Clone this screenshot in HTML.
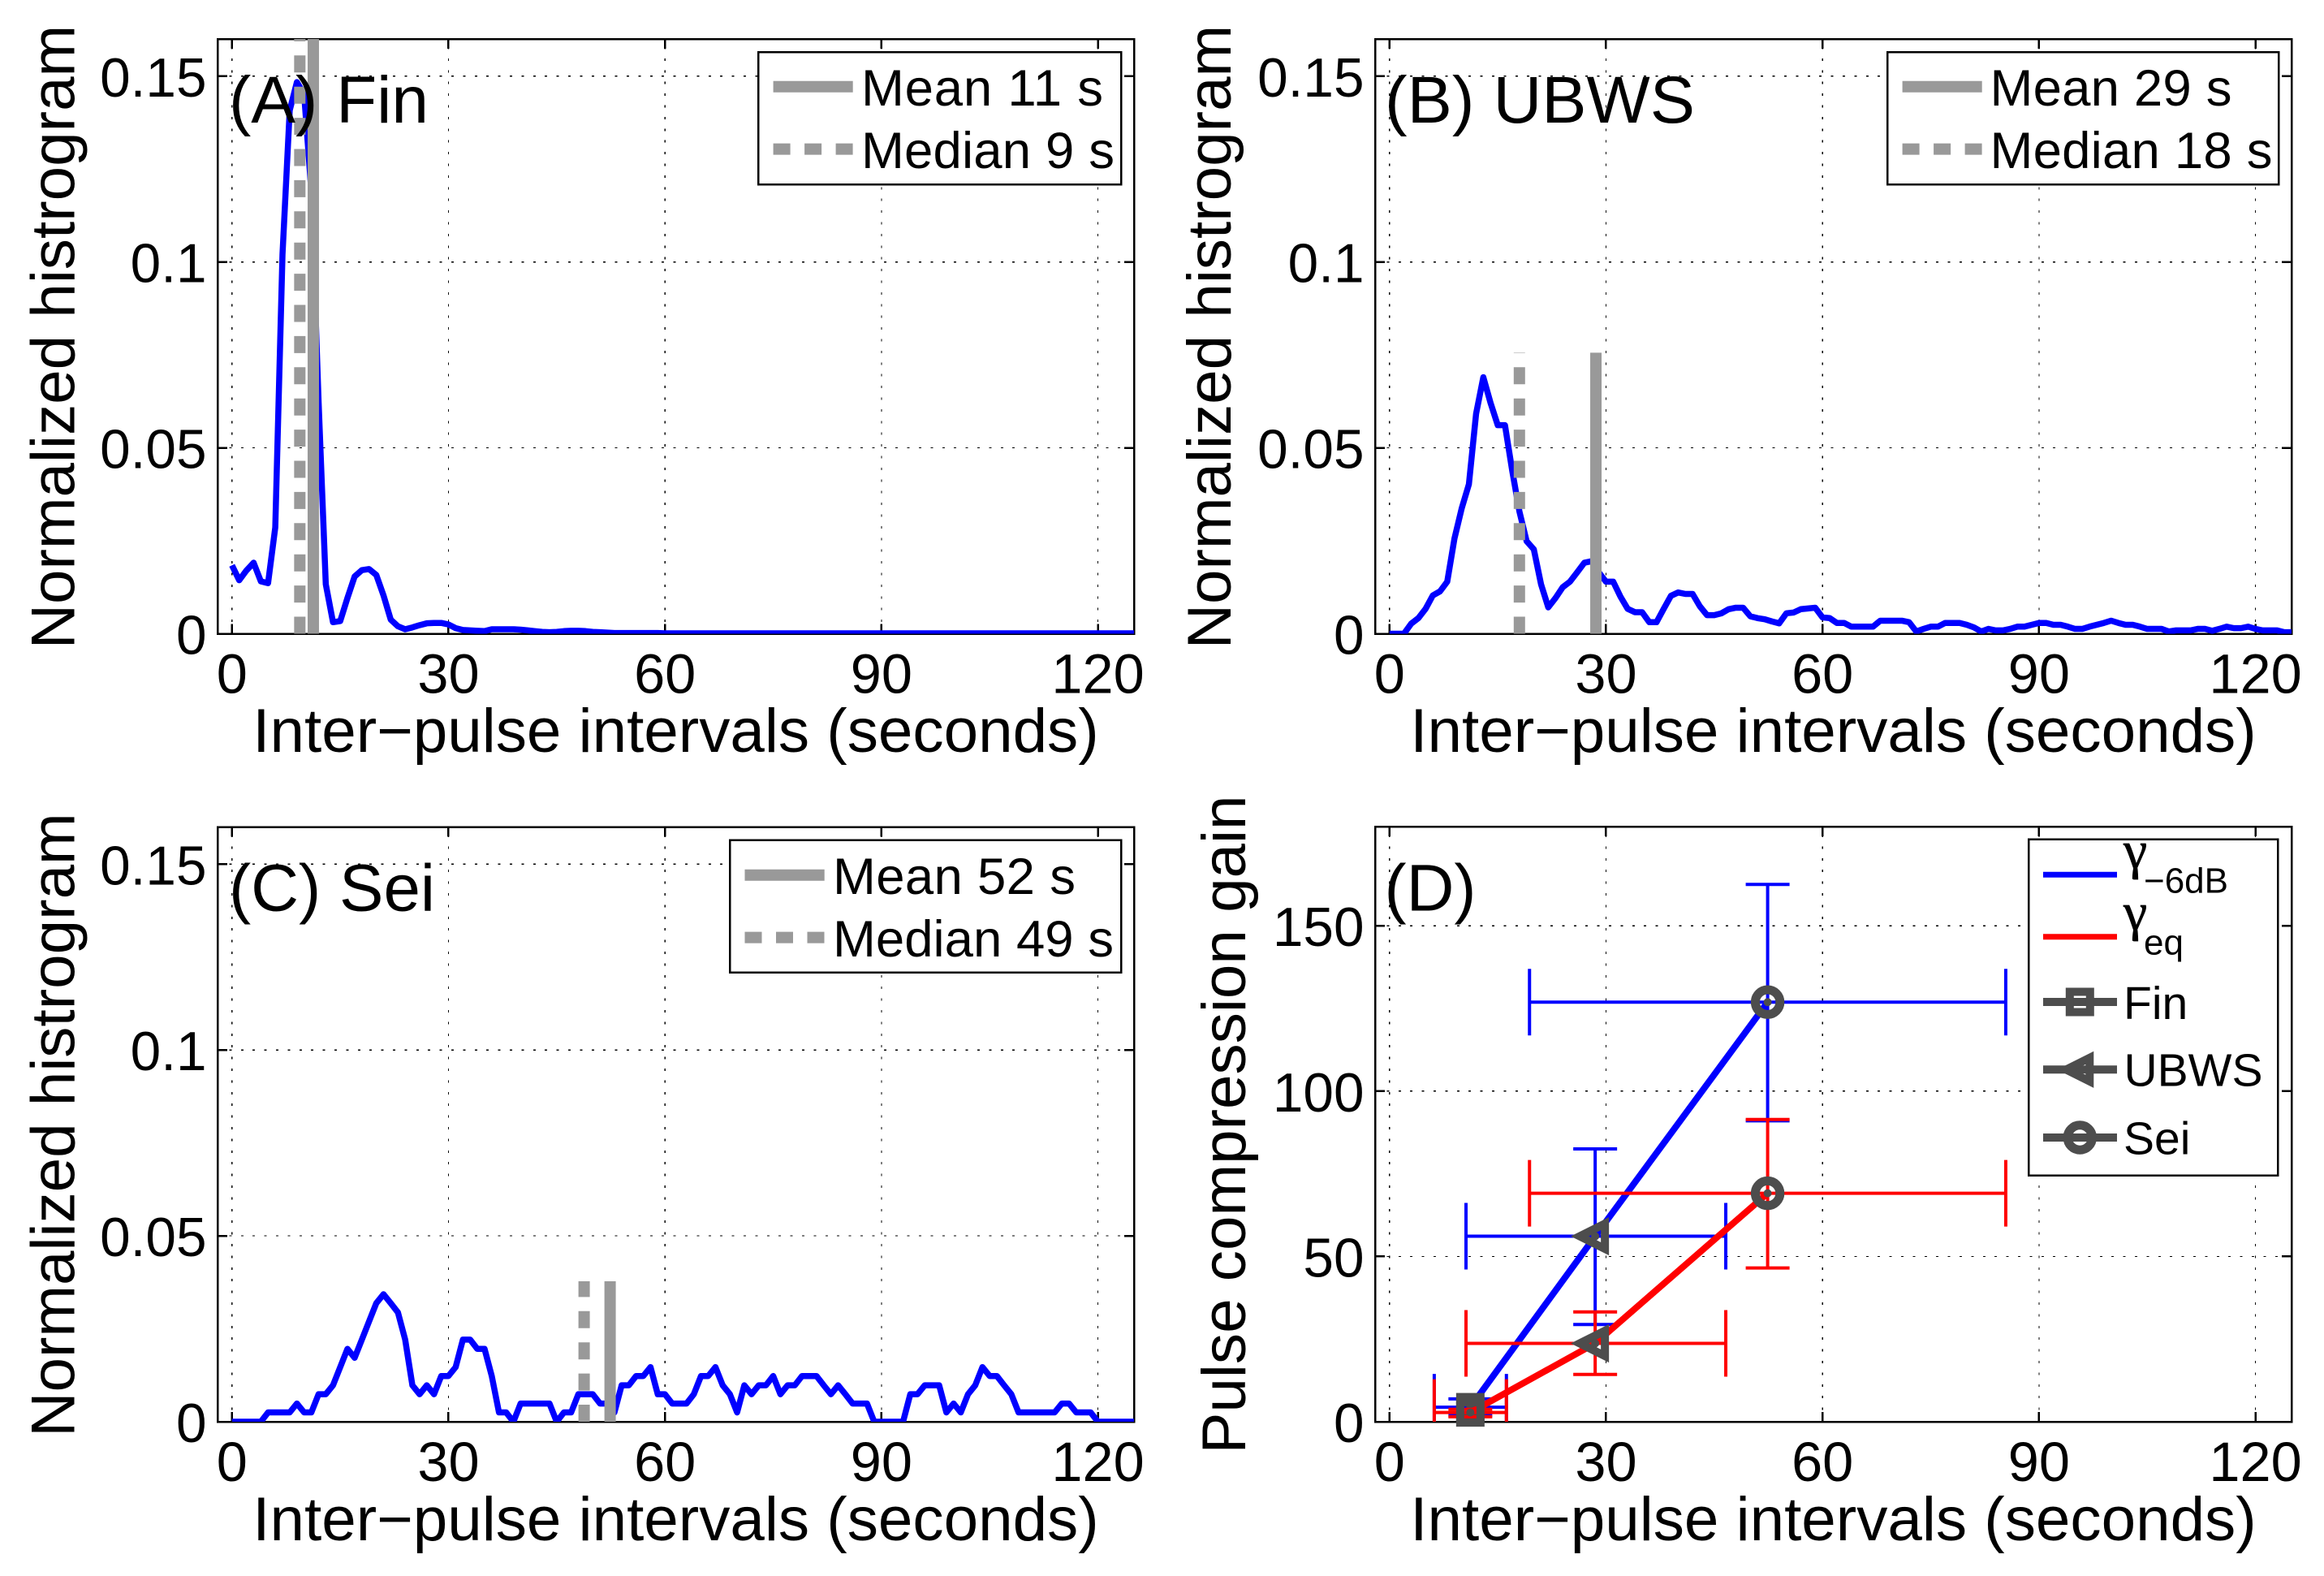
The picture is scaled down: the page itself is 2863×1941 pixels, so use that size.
<!DOCTYPE html>
<html lang="en">
<head>
<meta charset="utf-8">
<title>Inter-pulse interval histograms and pulse compression gain</title>
<style>
html,body{margin:0;padding:0;background:#fff;}
svg{display:block;}
text{font-family:"Liberation Sans",sans-serif;fill:#000;}
.lab{font-size:76.4px;text-anchor:middle;}
.tag{font-size:82px;}
.leg{font-size:63.5px;}
.leg2{font-size:57px;}
.sub{font-size:44px;}
.gam{font-family:"Liberation Serif",serif;font-size:66px;stroke:#000;stroke-width:0.7;}
.box{fill:#fff;stroke:#000;stroke-width:2.5;shape-rendering:crispEdges;}
</style>
</head>
<body>
<svg id="figure" xmlns="http://www.w3.org/2000/svg" width="2863" height="1941" viewBox="0 0 2863 1941">
<rect x="0" y="0" width="2863" height="1941" fill="#fff"/>

<g>
  <g id="plot-a"></g>
  <text class="lab" x="832.5" y="926">Inter−pulse intervals (seconds)</text>
  <text class="lab" transform="translate(91.5,415) rotate(-90)">Normalized histrogram</text>
  <text class="tag" x="282" y="151" textLength="246" lengthAdjust="spacingAndGlyphs">(A) Fin</text>
  <g>
    <rect class="box" x="934" y="64" width="447" height="163"/>
    <line x1="952.6" x2="1050.7" y1="106.7" y2="106.7" stroke="#999" stroke-width="14"/>
    <text class="leg" x="1061" y="130" textLength="298" lengthAdjust="spacing">Mean 11 s</text>
    <line x1="952.6" x2="1050.7" y1="183.6" y2="183.6" stroke="#999" stroke-width="14" stroke-dasharray="21 17.5"/>
    <text class="leg" x="1061" y="207" textLength="312" lengthAdjust="spacing">Median 9 s</text>
  </g>
</g>

<g>
  <g id="plot-b"></g>
  <text class="lab" x="2258.5" y="926">Inter−pulse intervals (seconds)</text>
  <text class="lab" transform="translate(1515.8,415) rotate(-90)">Normalized histrogram</text>
  <text class="tag" x="1706" y="151" textLength="382" lengthAdjust="spacingAndGlyphs">(B) UBWS</text>
  <g>
    <rect class="box" x="2325" y="64" width="482" height="163"/>
    <line x1="2343.6" x2="2441.7" y1="106.7" y2="106.7" stroke="#999" stroke-width="14"/>
    <text class="leg" x="2451.5" y="130" textLength="298" lengthAdjust="spacing">Mean 29 s</text>
    <line x1="2343.6" x2="2441.7" y1="183.6" y2="183.6" stroke="#999" stroke-width="14" stroke-dasharray="21 17.5"/>
    <text class="leg" x="2451.5" y="207" textLength="348" lengthAdjust="spacing">Median 18 s</text>
  </g>
</g>

<g>
  <g id="plot-c"></g>
  <text class="lab" x="832.5" y="1897">Inter−pulse intervals (seconds)</text>
  <text class="lab" transform="translate(91.5,1385.5) rotate(-90)">Normalized histrogram</text>
  <text class="tag" x="282" y="1121.5" textLength="254" lengthAdjust="spacingAndGlyphs">(C) Sei</text>
  <g>
    <rect class="box" x="899" y="1034.6" width="482" height="163"/>
    <line x1="917.5" x2="1015.7" y1="1077.7" y2="1077.7" stroke="#999" stroke-width="14"/>
    <text class="leg" x="1026" y="1101" textLength="299" lengthAdjust="spacing">Mean 52 s</text>
    <line x1="917.5" x2="1015.7" y1="1154.6" y2="1154.6" stroke="#999" stroke-width="14" stroke-dasharray="21 17.5"/>
    <text class="leg" x="1026" y="1178" textLength="346" lengthAdjust="spacing">Median 49 s</text>
  </g>
</g>

<g>
  <g id="plot-d"></g>
  <text class="lab" x="2258.5" y="1897">Inter−pulse intervals (seconds)</text>
  <text class="lab" transform="translate(1534,1385) rotate(-90)">Pulse compression gain</text>
  <text class="tag" x="1705.5" y="1121.5" textLength="113" lengthAdjust="spacingAndGlyphs">(D)</text>
  <g>
    <rect class="box" x="2499" y="1033.7" width="307" height="414"/>
    <line x1="2517" x2="2608" y1="1077.3" y2="1077.3" stroke="#00f" stroke-width="7"/>
    <text class="gam" x="2616" y="1069">γ</text>
    <text class="sub" x="2641" y="1099.3">−6dB</text>
    <line x1="2517" x2="2608" y1="1153.7" y2="1153.7" stroke="#f00" stroke-width="7"/>
    <text class="gam" x="2616" y="1145">γ</text>
    <text class="sub" x="2641" y="1175.3">eq</text>
    <line x1="2517" x2="2608" y1="1234" y2="1234" stroke="#4d4d4d" stroke-width="10"/>
    <rect x="2549.8" y="1221.5" width="25" height="25" fill="none" stroke="#4d4d4d" stroke-width="10"/>
    <text class="leg2" x="2616" y="1255">Fin</text>
    <line x1="2517" x2="2608" y1="1317.3" y2="1317.3" stroke="#4d4d4d" stroke-width="10"/>
    <path d="M2545.3 1317.3L2574.3 1302.8L2574.3 1331.8Z" fill="none" stroke="#4d4d4d" stroke-width="10"/>
    <text class="leg2" x="2616.5" y="1337.3">UBWS</text>
    <line x1="2517" x2="2608" y1="1401" y2="1401" stroke="#4d4d4d" stroke-width="10"/>
    <circle cx="2562.3" cy="1401" r="15.2" fill="none" stroke="#4d4d4d" stroke-width="11"/>
    <text class="leg2" x="2616" y="1421.7">Sei</text>
  </g>
</g>
</svg>

<script>
// ---------- Shared axis values ----------
const xTickValues = [0, 30, 60, 90, 120];
const histYTickValues = [0, 0.05, 0.1, 0.15];
const histYTickLabels = ['0', '0.05', '0.1', '0.15'];
const gainYTickValues = [0, 50, 100, 150];
const gainYTickLabels = ['0', '50', '100', '150'];

// ---------- Histogram series: one value per second, 0 to 125 s ----------
const finHistogram = [
.0184,.0144,.017,.0191,.0141,.0136,.0286,.102,.1408,.1484,.1451,.119,.0625,.0133,.0031,.0034,.0096,.0154,.0171,.0174,
.0158,.0103,.0038,.002,.0012,.0017,.0023,.0028,.0029,.0029,.0025,.0015,.001,.0009,.0008,.0007,.0012,.0012,.0012,.0012,
.0011,.0009,.0007,.0005,.0004,.0005,.0007,.0008,.0008,.0007,.0005,.0004,.0003,.0002,.0002,.0002,.0002,.0002,.0002,.0002,
.0001,.0001,.0001,.0001,.0001,.0001,.0001,.0001,.0001,.0001,.0001,.0001,.0001,.0001,.0001,.0001,.0001,.0001,.0001,.0001,
.0001,.0001,.0001,.0001,.0001,.0001,.0001,.0001,.0001,.0001,.0001,.0001,.0001,.0001,.0001,.0001,.0001,.0001,.0001,.0001,
.0001,.0001,.0001,.0001,.0001,.0001,.0001,.0001,.0001,.0001,.0001,.0001,.0001,.0001,.0001,.0001,.0001,.0001,.0001,.0001,
.0001,.0001,.0001,.0001,.0001,.0001];
const ubwsHistogram = [
0,0,0,.0027,.0042,.0067,.0103,.0114,.014,.0256,.0337,.0402,.0592,.069,.0621,.0561,.0561,.0439,.0329,.0249,
.0227,.0133,.0071,.0096,.0125,.014,.0165,.0191,.0195,.0165,.014,.014,.01,.0067,.0058,.0058,.0031,.0031,.0067,.0102,
.0111,.0107,.0107,.0074,.005,.005,.0055,.0066,.007,.007,.0047,.0042,.0039,.0033,.0028,.0055,.0057,.0066,.0068,.007,
.0044,.0042,.0029,.0029,.0019,.0019,.0019,.0019,.0035,.0035,.0035,.0035,.0031,.0006,.0013,.0019,.0019,.0029,.0029,.0029,
.0024,.0017,.0006,.0013,.0009,.0009,.0013,.0019,.0019,.0024,.0029,.0029,.0024,.0024,.0019,.0013,.0013,.0019,.0024,.0029,
.0035,.0029,.0024,.0024,.0019,.0013,.0013,.0013,.0006,.0009,.0009,.0009,.0013,.0013,.0008,.0013,.0019,.0015,.0015,.0019,
.0013,.0009,.0009,.0009,.0004,.0004];
const seiHistogram = [
0,0,0,0,0,.0025,.0025,.0025,.0025,.0049,.0025,.0025,.0074,.0074,.0098,.0147,.0196,.0172,.0221,.027,
.0319,.0343,.0319,.0294,.0221,.0098,.0074,.0098,.0074,.0123,.0123,.0147,.0221,.0221,.0196,.0196,.0123,.0025,.0025,0,
.0049,.0049,.0049,.0049,.0049,0,.0025,.0025,.0074,.0074,.0074,.0049,.0049,.0025,.0098,.0098,.0123,.0123,.0147,.0074,
.0074,.0049,.0049,.0049,.0074,.0123,.0123,.0147,.0098,.0074,.0025,.0098,.0074,.0098,.0098,.0123,.0074,.0098,.0098,.0123,
.0123,.0123,.0098,.0074,.0098,.0074,.0049,.0049,.0049,0,0,0,0,0,.0074,.0074,.0098,.0098,.0098,.0025,
.0049,.0025,.0074,.0098,.0147,.0123,.0123,.0098,.0074,.0025,.0025,.0025,.0025,.0025,.0025,.0049,.0049,.0025,.0025,.0025,
0,0,0,0,0,0];

// ---------- Mean and median marker values (seconds) and heights ----------
const finMean = 11.27, finMedian = 9.4, finMarkerHeight = 0.17;
const ubwsMean = 28.6, ubwsMedian = 18, ubwsMarkerHeight = 0.0756;
const seiMean = 52.4, seiMedian = 48.8, seiMarkerHeight = 0.0378;

// ---------- Panel D: one entry per species ----------
const gainSpecies = ['fin', 'ubws', 'sei'];
const intervalMean = [11.2, 28.5, 52.4];
const intervalLow = [6.2, 10.6, 19.4];
const intervalHigh = [16.2, 46.6, 85.4];
const gamma6dBMean = [4.4, 56.1, 126.9];
const gamma6dBLow = [2, 29.4, 91];
const gamma6dBHigh = [6.9, 82.5, 162.5];
const gammaEqMean = [2.8, 23.7, 69.1];
const gammaEqLow = [1.5, 14.3, 46.5];
const gammaEqHigh = [3.75, 33.2, 91.4];

// ---------- Drawing ----------
const NS = 'http://www.w3.org/2000/svg';
function add(parent, tag, attrs) {
  const node = document.createElementNS(NS, tag);
  for (const k in attrs) node.setAttribute(k, attrs[k]);
  parent.appendChild(node);
  return node;
}

function makeAxes(id, left, top, bottom, yMax, yTicks, yLabels) {
  const width = 1129, xMin = -2, xMax = 125;
  const right = left + width;
  const xs = v => left + (v - xMin) / (xMax - xMin) * width;
  const ys = v => bottom - v / yMax * (bottom - top);
  const root = document.getElementById('plot-' + id);
  const crisp = 'crispEdges';

  const clip = add(root, 'clipPath', {id: 'clip-' + id});
  add(clip, 'rect', {x: left, y: top, width: width, height: bottom - top});

  xTickValues.forEach(v => {
    const g = add(root, 'line', {x1: xs(v), x2: xs(v), y1: bottom, y2: top, stroke: '#000', 'stroke-width': 1.2, 'stroke-dasharray': '3 11.4', 'shape-rendering': crisp});
    
    
    const t1 = add(root, 'line', {x1: xs(v), x2: xs(v), y1: bottom, y2: bottom - 12, stroke: '#000', 'stroke-width': 2.5, 'shape-rendering': crisp});
    
    
    const t2 = add(root, 'line', {x1: xs(v), x2: xs(v), y1: top, y2: top + 12, stroke: '#000', 'stroke-width': 2.5, 'shape-rendering': crisp});
    
    
    const lab = add(root, 'text', {x: xs(v), y: bottom + 73, 'text-anchor': 'middle', 'font-size': 68.5});
    lab.textContent = String(v);
    
    
  });

  yTicks.forEach((v, i) => {
    if (v > 0) {
      const g = add(root, 'line', {x1: left, x2: right, y1: ys(v), y2: ys(v), stroke: '#000', 'stroke-width': 1.2, 'stroke-dasharray': '3 11.4', 'shape-rendering': crisp});
      
      
      const t1 = add(root, 'line', {x1: left, x2: left + 12, y1: ys(v), y2: ys(v), stroke: '#000', 'stroke-width': 2.5, 'shape-rendering': crisp});
      
      
      const t2 = add(root, 'line', {x1: right, x2: right - 12, y1: ys(v), y2: ys(v), stroke: '#000', 'stroke-width': 2.5, 'shape-rendering': crisp});
      
      
    }
    const lab = add(root, 'text', {x: left - 13.5, y: ys(v) + 25, 'text-anchor': 'end', 'font-size': 67.5});
    lab.textContent = yLabels[i];
    
    
  });

  const frame = add(root, 'rect', {x: left, y: top, width: width, height: bottom - top, fill: 'none', stroke: '#000', 'stroke-width': 2.5, 'shape-rendering': crisp});
  
  

  return {root: root, xs: xs, ys: ys, clipUrl: 'url(#clip-' + id + ')'};
}

function drawHistogram(ax, values, mean, median, height) {
  const pts = values.map((v, i) => ax.xs(i) + ',' + ax.ys(v)).join(' ');
  const line = add(ax.root, 'polyline', {points: pts, fill: 'none', stroke: '#00f', 'stroke-width': 7.5, 'stroke-linejoin': 'round', 'clip-path': ax.clipUrl});
  
  
  const m = add(ax.root, 'line', {x1: ax.xs(mean), x2: ax.xs(mean), y1: ax.ys(0), y2: ax.ys(height), stroke: '#999', 'stroke-width': 14, 'clip-path': ax.clipUrl});
  
  
  const d = add(ax.root, 'line', {x1: ax.xs(median), x2: ax.xs(median), y1: ax.ys(0), y2: ax.ys(height), stroke: '#999', 'stroke-width': 14, 'stroke-dasharray': '21 17.4', 'clip-path': ax.clipUrl});
  
  
}

function drawMarker(ax, kind, cx, cy) {
  const dark = '#4d4d4d';
  let mk;
  if (kind === 'fin') {
    mk = add(ax.root, 'rect', {x: cx - 12.5, y: cy - 12.5, width: 25, height: 25, fill: 'none', stroke: dark, 'stroke-width': 10});
  } else if (kind === 'ubws') {
    mk = add(ax.root, 'path', {d: 'M' + (cx - 19) + ' ' + cy + 'L' + (cx + 12) + ' ' + (cy - 15.5) + 'L' + (cx + 12) + ' ' + (cy + 15.5) + 'Z', fill: 'none', stroke: dark, 'stroke-width': 10});
  } else {
    mk = add(ax.root, 'circle', {cx: cx, cy: cy, r: 15.2, fill: 'none', stroke: dark, 'stroke-width': 11});
  }
  
  
  const dot = add(ax.root, 'circle', {cx: cx, cy: cy, r: 5, fill: dark});
  
  
}

function drawGainSeries(ax, color, means, lows, highs) {
  const capX = 27, capY = 41;
  means.forEach((v, i) => {
    const px = ax.xs(intervalMean[i]), py = ax.ys(v);
    const segs = [
      [ax.xs(intervalLow[i]), py, ax.xs(intervalHigh[i]), py],
      [ax.xs(intervalLow[i]), py - capY, ax.xs(intervalLow[i]), py + capY],
      [ax.xs(intervalHigh[i]), py - capY, ax.xs(intervalHigh[i]), py + capY],
      [px, ax.ys(lows[i]), px, ax.ys(highs[i])],
      [px - capX, ax.ys(lows[i]), px + capX, ax.ys(lows[i])],
      [px - capX, ax.ys(highs[i]), px + capX, ax.ys(highs[i])]
    ];
    segs.forEach(s => {
      const e = add(ax.root, 'line', {x1: s[0], y1: s[1], x2: s[2], y2: s[3], stroke: color, 'stroke-width': 4, 'clip-path': ax.clipUrl});
      
      
    });
  });
  const pts = means.map((v, i) => ax.xs(intervalMean[i]) + ',' + ax.ys(v)).join(' ');
  const line = add(ax.root, 'polyline', {points: pts, fill: 'none', stroke: color, 'stroke-width': 8, 'clip-path': ax.clipUrl});
  
  
  means.forEach((v, i) => drawMarker(ax, gainSpecies[i], ax.xs(intervalMean[i]), ax.ys(v)));
}

const axA = makeAxes('a', 268, 48, 780.5, 0.16, histYTickValues, histYTickLabels);
drawHistogram(axA, finHistogram, finMean, finMedian, finMarkerHeight);
const axB = makeAxes('b', 1694, 48, 780.5, 0.16, histYTickValues, histYTickLabels);
drawHistogram(axB, ubwsHistogram, ubwsMean, ubwsMedian, ubwsMarkerHeight);
const axC = makeAxes('c', 268, 1018.5, 1751, 0.16, histYTickValues, histYTickLabels);
drawHistogram(axC, seiHistogram, seiMean, seiMedian, seiMarkerHeight);
const axD = makeAxes('d', 1694, 1018, 1751, 180, gainYTickValues, gainYTickLabels);
drawGainSeries(axD, '#00f', gamma6dBMean, gamma6dBLow, gamma6dBHigh);
drawGainSeries(axD, '#f00', gammaEqMean, gammaEqLow, gammaEqHigh);
</script>
</body>
</html>
